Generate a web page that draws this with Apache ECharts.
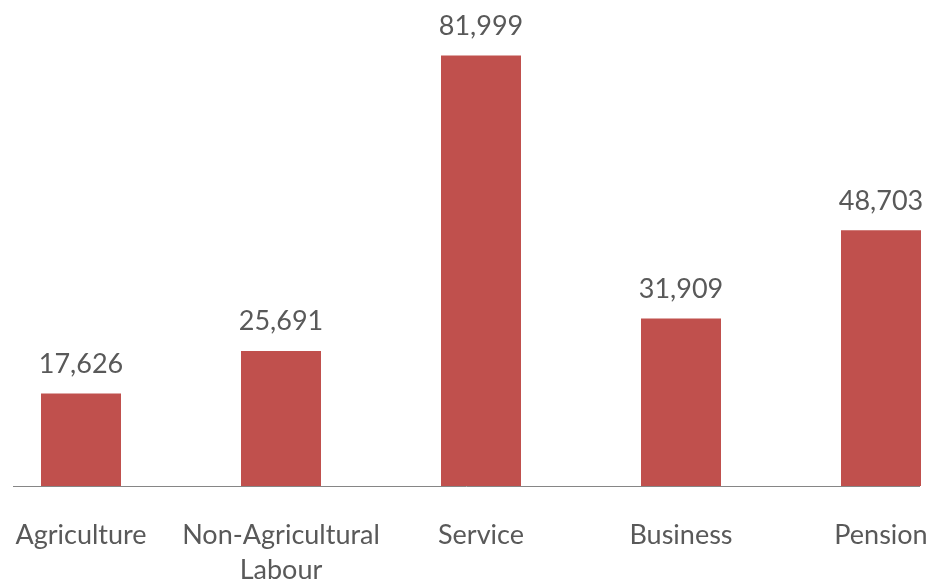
<!DOCTYPE html>
<html>
<head>
<meta charset="utf-8">
<script src="https://cdn.jsdelivr.net/npm/echarts@6/dist/echarts.min.js"></script>
<style>
  html, body { margin: 0; padding: 0; background: #ffffff; overflow: hidden; }
  #chart { width: 929px; height: 582px; }
</style>
</head>
<body>
<div id="chart"></div>
<script>
// Income by source
var categories = ['Agriculture', 'Non-Agricultural\nLabour', 'Service', 'Business', 'Pension'];
var values = [17626, 25691, 81999, 31909, 48703];

var chart = echarts.init(document.getElementById('chart'), null, { renderer: 'canvas' });

var textColor = '#595959';
var fontFamily = 'Lato, "Open Sans", sans-serif';

chart.setOption({
  backgroundColor: '#ffffff',
  animation: false,
  grid: {
    left: -19, width: 1000, top: 13.5, bottom: 96,
    containLabel: false,
    outerBoundsMode: 'none'
  },
  xAxis: {
    type: 'category',
    data: categories,
    axisLine: { show: false },
    axisTick: { show: false },
    axisLabel: {
      color: textColor,
      fontFamily: fontFamily,
      fontSize: 27,
      lineHeight: 35,
      margin: 32,
      interval: 0
    }
  },
  yAxis: {
    type: 'value',
    min: 0,
    max: 90000,
    show: false,
    splitLine: { show: false }
  },
  series: [{
    type: 'bar',
    data: values,
    barWidth: 80,
    itemStyle: { color: '#C0504D' },
    label: {
      show: true,
      position: 'top',
      distance: 16,
      color: textColor,
      fontFamily: fontFamily,
      fontSize: 27,
      lineHeight: 27,
      formatter: function (p) { return p.value.toLocaleString('en-US'); }
    }
  }],
  graphic: [{
    type: 'line',
    shape: { x1: 13, y1: 486.5, x2: 920, y2: 486.5 },
    style: { stroke: '#868686', lineWidth: 1 },
    z: 10
  }]
});
</script>
</body>
</html>
